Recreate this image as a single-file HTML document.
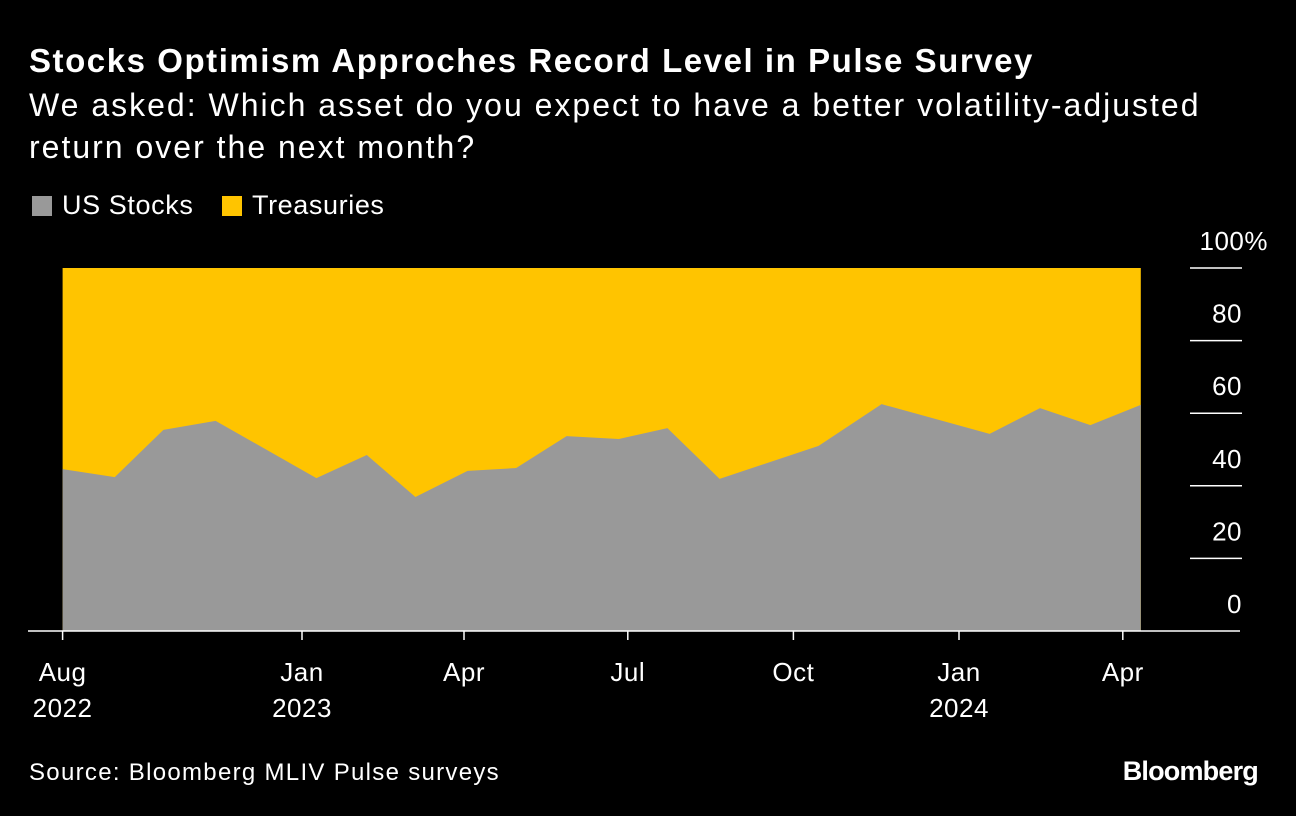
<!DOCTYPE html>
<html><head><meta charset="utf-8"><style>
body{margin:0;background:#000;width:1296px;height:816px;overflow:hidden;font-family:"Liberation Sans",Arial,sans-serif;color:#fff}
.t{position:absolute;left:29px;top:42px;font-size:33px;font-weight:bold;letter-spacing:1.55px;white-space:nowrap}
.s{position:absolute;left:29px;top:84px;font-size:32px;line-height:42px;width:1175px;letter-spacing:2px}
.lg{position:absolute;top:190px;font-size:27px;display:flex;align-items:center;letter-spacing:0.6px}
.sw{width:20px;height:20px;display:inline-block;margin-right:10px}
.src{position:absolute;left:29px;top:759px;font-size:24px;letter-spacing:1.3px}
.bb{position:absolute;right:38px;top:756px;font-size:27px;font-weight:bold;letter-spacing:-0.8px}
</style></head><body>
<div class="t">Stocks Optimism Approches Record Level in Pulse Survey</div>
<div class="s">We asked: Which asset do you expect to have a better volatility-adjusted return over the next month?</div>
<div class="lg" style="left:32px"><span class="sw" style="background:#999"></span>US Stocks</div>
<div class="lg" style="left:222px"><span class="sw" style="background:#ffc400"></span>Treasuries</div>
<svg id="c" width="1296" height="816" style="position:absolute;left:0;top:0"></svg>
<div class="src">Source: Bloomberg MLIV Pulse surveys</div>
<div class="bb">Bloomberg</div>
<script>
const dates=["2022-08-21","2022-09-19","2022-10-16","2022-11-14","2023-01-09","2023-02-06","2023-03-05","2023-04-03","2023-04-30","2023-05-28","2023-06-26","2023-07-23","2023-08-21","2023-10-15","2023-11-19","2024-01-18","2024-02-15","2024-03-14","2024-04-11"];
const stocks=[44.6,42.4,55.4,57.9,42.1,48.5,36.9,44.1,44.9,53.7,52.9,55.9,41.9,51.0,62.5,54.3,61.4,56.7,62.3];
const yTicks=[0,20,40,60,80,100];
const xTickDates=["2022-08-21","2023-01-01","2023-04-01","2023-07-01","2023-10-01","2024-01-01","2024-04-01"];
const xTickLabels=[["Aug","2022"],["Jan","2023"],["Apr",""],["Jul",""],["Oct",""],["Jan","2024"],["Apr",""]];
const NS="http://www.w3.org/2000/svg",svg=document.getElementById('c');
const d0=Date.UTC(2023,0,1);
function day(s){const p=s.split('-');return (Date.UTC(+p[0],p[1]-1,+p[2])-d0)/864e5;}
function X(s){return 302+1.8*day(s);}
function Y(v){return 631-v*3.63;}
function mk(t,a){const e=document.createElementNS(NS,t);for(const k in a)e.setAttribute(k,a[k]);svg.appendChild(e);return e;}
const x0=X(dates[0]),x1=X(dates[dates.length-1]);
let e=mk('rect',{x:x0,y:Y(100),width:x1-x0,height:Y(0)-Y(100),fill:'#ffc400'});


let d='M'+x0+','+Y(0);dates.forEach((s,i)=>d+=' L'+X(s)+','+Y(stocks[i]));d+=' L'+x1+','+Y(0)+'Z';
e=mk('path',{d:d,fill:'#999'});


yTicks.forEach(v=>{
 if(v>0){e=mk('line',{x1:1190,x2:1242,y1:Y(v),y2:Y(v),stroke:'#fff','stroke-width':1.5});
 
 }
 e=mk('text',{x:1242,y:Y(v)-18,'text-anchor':'end',fill:'#fff','font-size':26,'letter-spacing':0.5,'font-family':'Liberation Sans, sans-serif'});
 e.textContent=v===100?'100%':String(v);
 if(v===100)e.setAttribute('x',1268);
 
 
});
e=mk('line',{x1:28,x2:1240,y1:Y(0),y2:Y(0),stroke:'#fff','stroke-width':1.5});


xTickDates.forEach((s,i)=>{
 const x=X(s);
 e=mk('line',{x1:x,x2:x,y1:Y(0),y2:Y(0)+9,stroke:'#fff','stroke-width':1.5});
 
 
 xTickLabels[i].forEach((l,j)=>{if(!l)return;
  e=mk('text',{x:x,y:681+j*36,'text-anchor':'middle',fill:'#fff','font-size':26,'letter-spacing':0.5,'font-family':'Liberation Sans, sans-serif'});
  e.textContent=l;
  
  
 });
});
</script>
</body></html>
